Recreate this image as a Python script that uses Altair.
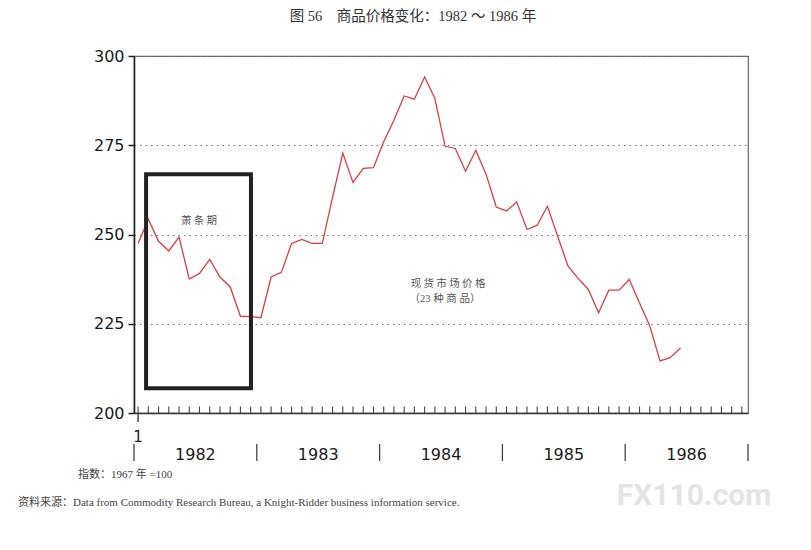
import altair as alt
import pandas as pd

# ---- data (monthly index, 1967 = 100) ----
months = list(range(1, 55))
prices = [247.5, 254.3, 248.1, 245.4, 249.3, 237.5, 239.1, 243.0, 238.1, 235.3,
          227.1, 227.0, 226.7, 238.1, 239.4, 247.5, 248.6, 247.5, 247.5, 260.3,
          272.8, 264.6, 268.5, 268.7, 276.0, 282.0, 288.8, 287.9, 294.1, 288.1,
          274.7, 274.1, 267.7, 273.6, 266.9, 257.7, 256.6, 259.1, 251.4, 252.6,
          257.9, 249.5, 241.2, 237.7, 234.6, 228.1, 234.4, 234.4, 237.4, 230.8,
          224.4, 214.6, 215.5, 218.2]
years = ["1982", "1983", "1984", "1985", "1986"]
year_mid = [6.6, 18.6, 30.6, 42.6, 54.6]
year_bounds = [0.6, 12.6, 24.6, 36.6, 48.6, 60.6]
tick_months = list(range(1, 61))
y_ticks = [200, 225, 250, 275, 300]
recession = {"x": 1.78, "x2": 12.03, "y": 266.9, "y2": 206.9}

df = pd.DataFrame({"x": months, "v": prices})
ticks_df = pd.DataFrame({"x": tick_months, "v": [200] * 60, "v2": [201.8] * 60})
years_df = pd.DataFrame({"x": year_mid, "label": years})
bounds_df = pd.DataFrame({"x": year_bounds})
box_df = pd.DataFrame([recession])
one = pd.DataFrame({"a": [0]})

xs = alt.Scale(domain=[0.6, 60.6], nice=False, zero=False)
ys = alt.Scale(domain=[200, 300], nice=False, zero=False)

SANS = "DejaVu Sans"
SERIF = "Liberation Serif, 'Noto Sans CJK SC'"
CJK = "'Noto Sans CJK SC'"

xa = alt.Axis(labels=False, ticks=False, grid=False, title=None,
              domainColor="#333", domainWidth=1.5)
ya = alt.Axis(values=y_ticks, title=None, grid=True, gridColor="#777",
              gridDash=[1.5, 4], gridWidth=1.2, tickSize=6,
              tickColor="#222", tickWidth=1.5, domainColor="#222",
              domainWidth=1.6, labelFont=SANS, labelFontSize=16,
              labelColor="#1a1a1a", labelPadding=4)

line = alt.Chart(df).mark_line(color="#d6403f", strokeWidth=1.3).encode(
    x=alt.X("x:Q", scale=xs, axis=xa),
    y=alt.Y("v:Q", scale=ys, axis=ya),
)

month_ticks = alt.Chart(ticks_df).mark_rule(color="#444", strokeWidth=1.1).encode(
    x=alt.X("x:Q", scale=xs, axis=xa),
    y=alt.Y("v:Q", scale=ys, axis=ya),
    y2="v2:Q",
)

first_tick = alt.Chart(one).mark_rule(color="#333", strokeWidth=1.3).encode(
    x=alt.datum(1), y=alt.value(357), y2=alt.value(366)
)
first_label = alt.Chart(one).mark_text(
    text="1", font=SANS, fontSize=15, color="#222", baseline="middle"
).encode(x=alt.datum(1), y=alt.value(381))

separators = alt.Chart(bounds_df).mark_rule(color="#444", strokeWidth=1.3).encode(
    x=alt.X("x:Q", scale=xs, axis=xa), y=alt.value(388), y2=alt.value(405)
)
year_labels = alt.Chart(years_df).mark_text(
    font=SANS, fontSize=16, color="#1a1a1a", baseline="middle"
).encode(x=alt.X("x:Q", scale=xs, axis=xa), y=alt.value(399), text="label:N")

box = alt.Chart(box_df).mark_rect(
    fillOpacity=0, stroke="#222", strokeWidth=4
).encode(
    x=alt.X("x:Q", scale=xs, axis=xa), x2="x2:Q",
    y=alt.Y("y:Q", scale=ys, axis=ya), y2="y2:Q",
)

def txt(s, x, y, size=10.5, font=CJK, color="#555", align="center", weight="normal"):
    return alt.Chart(one).mark_text(
        text=s, font=font, fontSize=size, color=color, align=align,
        baseline="middle", fontWeight=weight
    ).encode(x=alt.value(x), y=alt.value(y))

labels = [
    txt("萧 条 期", 65, 165),
    txt("现 货 市 场 价 格", 314, 228),
    txt("（23 种 商 品）", 311, 243, font=SERIF),
    txt("图 56　商品价格变化：1982 ～ 1986 年", 279, -39, size=14.5, font=SERIF, color="#333"),
    txt("指数：1967 年 =100", -56, 419, size=11, font=SERIF, color="#444", align="left"),
    txt("资料来源：Data from Commodity Research Bureau, a Knight-Ridder business information service.",
        -116, 447, size=11, font=SERIF, color="#444", align="left"),
    txt("FX110.com", 560, 440, size=30, font="Roboto", color="#e4e4e4", weight="bold"),
]

chart = alt.layer(
    line, month_ticks, first_tick, first_label, separators, year_labels, box, *labels
).properties(
    width=614, height=357,
    autosize=alt.AutoSizeParams(type="none"),
    padding={"left": 126, "top": 48, "right": 50, "bottom": 120},
).configure_view(stroke="#666", strokeWidth=1.2)

chart.save("out.html", embed_options={"renderer": "svg", "actions": False})
